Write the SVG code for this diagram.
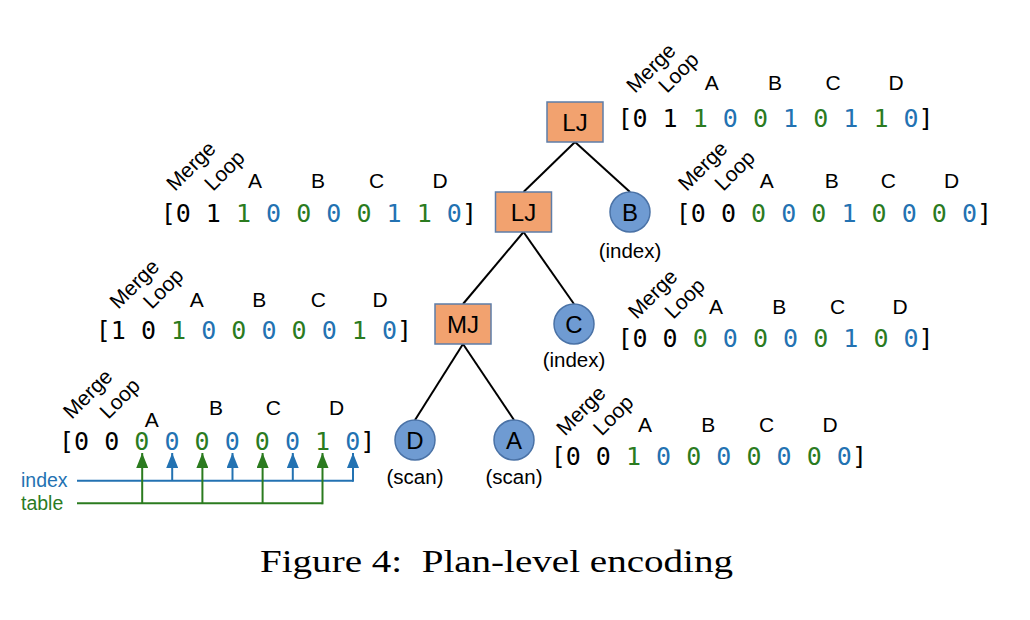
<svg xmlns="http://www.w3.org/2000/svg" width="1030" height="620" viewBox="0 0 1030 620">
<style>
.op{fill:#F2A26F;stroke:#5E7DA8;stroke-width:1.5}
.sc{fill:#6F9BD2;stroke:#4A72A6;stroke-width:1.5}
.nl{font-family:"Liberation Sans",Arial,sans-serif;font-size:24px;fill:#000;text-anchor:middle}
.sub{font-family:"Liberation Sans",Arial,sans-serif;font-size:20.5px;fill:#000;text-anchor:middle}
.lbl{font-family:"Liberation Sans",Arial,sans-serif;font-size:21px;fill:#000;text-anchor:middle}
.rot{font-family:"Liberation Sans",Arial,sans-serif;font-size:21px;fill:#000}
.vec{font-family:"DejaVu Sans Mono",monospace;font-size:25px;fill:#000}
.g{fill:#2B7B1F}
.b{fill:#2372B2}
.edge{stroke:#000;stroke-width:2;fill:none}
.bl{stroke:#2372B2;stroke-width:2;fill:none}
.gl{stroke:#2B7B1F;stroke-width:2;fill:none}
.leg{font-family:"Liberation Sans",Arial,sans-serif;font-size:19.5px}
.cap{font-family:"Liberation Serif","Times New Roman",serif;font-size:31px;fill:#000}
</style>
<defs>
<marker id="ab" viewBox="0 0 15 12" refX="15" refY="6" markerWidth="15" markerHeight="12" markerUnits="userSpaceOnUse" orient="auto">
<path d="M0,0 L15,6 L0,12 Z" fill="#2372B2"/>
</marker>
<marker id="ag" viewBox="0 0 15 12" refX="15" refY="6" markerWidth="15" markerHeight="12" markerUnits="userSpaceOnUse" orient="auto">
<path d="M0,0 L15,6 L0,12 Z" fill="#2B7B1F"/>
</marker>
</defs>
<rect width="1030" height="620" fill="#fff"/>

<g id="connectors">
<line class="edge" x1="575" y1="142" x2="523.5" y2="192"/>
<line class="edge" x1="575" y1="142" x2="630" y2="192"/>
<line class="edge" x1="523.5" y1="232" x2="463" y2="304"/>
<line class="edge" x1="523.5" y1="232" x2="574" y2="304"/>
<line class="edge" x1="463" y1="344" x2="415" y2="420"/>
<line class="edge" x1="463" y1="344" x2="514" y2="420"/>
</g>

<g id="node-lj1">
<rect class="op" x="547" y="102" width="56" height="40"/>
<text class="nl" x="575" y="130.5">LJ</text>
</g>
<g id="node-lj2">
<rect class="op" x="495.5" y="192" width="56" height="40"/>
<text class="nl" x="523.5" y="220.5">LJ</text>
</g>
<g id="node-b">
<circle class="sc" cx="630" cy="212" r="20"/>
<text class="nl" x="630" y="220.5">B</text>
<text class="sub" x="630" y="258">(index)</text>
</g>
<g id="node-mj">
<rect class="op" x="435" y="304" width="56" height="40"/>
<text class="nl" x="463" y="332.5">MJ</text>
</g>
<g id="node-c">
<circle class="sc" cx="574" cy="324" r="20"/>
<text class="nl" x="574" y="332.5">C</text>
<text class="sub" x="574" y="367">(index)</text>
</g>
<g id="node-d">
<circle class="sc" cx="415" cy="440" r="20"/>
<text class="nl" x="415" y="448.5">D</text>
<text class="sub" x="415" y="484">(scan)</text>
</g>
<g id="node-a">
<circle class="sc" cx="514" cy="440" r="20"/>
<text class="nl" x="514" y="448.5">A</text>
<text class="sub" x="514" y="484">(scan)</text>
</g>

<g id="vec-lj1">
<text class="rot" transform="translate(635,94) rotate(-45)">Merge</text>
<text class="rot" transform="translate(667,94) rotate(-45)">Loop</text>
<text class="lbl" x="711.7" y="90">A</text><text class="lbl" x="775" y="90">B</text><text class="lbl" x="833" y="90">C</text><text class="lbl" x="896" y="90">D</text>
<text class="vec" x="617.4" y="127">[0 1 <tspan class="g">1</tspan> <tspan class="b">0</tspan> <tspan class="g">0</tspan> <tspan class="b">1</tspan> <tspan class="g">0</tspan> <tspan class="b">1</tspan> <tspan class="g">1</tspan> <tspan class="b">0</tspan>]</text>
</g>

<g id="vec-lj2">
<text class="rot" transform="translate(175,192) rotate(-45)">Merge</text>
<text class="rot" transform="translate(213,192) rotate(-45)">Loop</text>
<text class="lbl" x="255" y="188">A</text><text class="lbl" x="318" y="188">B</text><text class="lbl" x="376.7" y="188">C</text><text class="lbl" x="440" y="188">D</text>
<text class="vec" x="160.7" y="222">[0 1 <tspan class="g">1</tspan> <tspan class="b">0</tspan> <tspan class="g">0</tspan> <tspan class="b">0</tspan> <tspan class="g">0</tspan> <tspan class="b">1</tspan> <tspan class="g">1</tspan> <tspan class="b">0</tspan>]</text>
</g>

<g id="vec-b">
<text class="rot" transform="translate(686.7,192) rotate(-45)">Merge</text>
<text class="rot" transform="translate(723.3,192) rotate(-45)">Loop</text>
<text class="lbl" x="766.7" y="188.3">A</text><text class="lbl" x="831.7" y="188.3">B</text><text class="lbl" x="888.3" y="188.3">C</text><text class="lbl" x="951.7" y="188.3">D</text>
<text class="vec" x="675.8" y="222">[0 0 <tspan class="g">0</tspan> <tspan class="b">0</tspan> <tspan class="g">0</tspan> <tspan class="b">1</tspan> <tspan class="g">0</tspan> <tspan class="b">0</tspan> <tspan class="g">0</tspan> <tspan class="b">0</tspan>]</text>
</g>

<g id="vec-mj">
<text class="rot" transform="translate(118.3,310) rotate(-45)">Merge</text>
<text class="rot" transform="translate(151.7,310) rotate(-45)">Loop</text>
<text class="lbl" x="196.7" y="306.7">A</text><text class="lbl" x="259.3" y="306.7">B</text><text class="lbl" x="318.3" y="306.7">C</text><text class="lbl" x="380" y="306.7">D</text>
<text class="vec" x="95.8" y="338.5">[1 0 <tspan class="g">1</tspan> <tspan class="b">0</tspan> <tspan class="g">0</tspan> <tspan class="b">0</tspan> <tspan class="g">0</tspan> <tspan class="b">0</tspan> <tspan class="g">1</tspan> <tspan class="b">0</tspan>]</text>
</g>

<g id="vec-c">
<text class="rot" transform="translate(636.7,320) rotate(-45)">Merge</text>
<text class="rot" transform="translate(673.3,320) rotate(-45)">Loop</text>
<text class="lbl" x="716" y="314.3">A</text><text class="lbl" x="779.3" y="314.3">B</text><text class="lbl" x="837.7" y="314.3">C</text><text class="lbl" x="900" y="314.3">D</text>
<text class="vec" x="617.4" y="347">[0 0 <tspan class="g">0</tspan> <tspan class="b">0</tspan> <tspan class="g">0</tspan> <tspan class="b">0</tspan> <tspan class="g">0</tspan> <tspan class="b">1</tspan> <tspan class="g">0</tspan> <tspan class="b">0</tspan>]</text>
</g>

<g id="vec-d">
<text class="rot" transform="translate(71.7,420) rotate(-45)">Merge</text>
<text class="rot" transform="translate(108.3,420) rotate(-45)">Loop</text>
<text class="lbl" x="151.7" y="426.7">A</text><text class="lbl" x="216" y="415">B</text><text class="lbl" x="273.3" y="415">C</text><text class="lbl" x="336.7" y="415">D</text>
<text class="vec" x="59" y="450">[0 0 <tspan class="g">0</tspan> <tspan class="b">0</tspan> <tspan class="g">0</tspan> <tspan class="b">0</tspan> <tspan class="g">0</tspan> <tspan class="b">0</tspan> <tspan class="g">1</tspan> <tspan class="b">0</tspan>]</text>
</g>

<g id="vec-a">
<text class="rot" transform="translate(565,436.7) rotate(-45)">Merge</text>
<text class="rot" transform="translate(601.7,436.7) rotate(-45)">Loop</text>
<text class="lbl" x="645" y="431.7">A</text><text class="lbl" x="708.3" y="431.7">B</text><text class="lbl" x="766.7" y="431.7">C</text><text class="lbl" x="830" y="431.7">D</text>
<text class="vec" x="550.7" y="465">[0 0 <tspan class="g">1</tspan> <tspan class="b">0</tspan> <tspan class="g">0</tspan> <tspan class="b">0</tspan> <tspan class="g">0</tspan> <tspan class="b">0</tspan> <tspan class="g">0</tspan> <tspan class="b">0</tspan>]</text>
</g>

<g id="legend">
<text class="leg" x="21" y="487" fill="#2372B2">index</text>
<text class="leg" x="21" y="509.5" fill="#2B7B1F">table</text>
<polyline class="bl" points="77,480.7 353,480.7"/>
<polyline class="gl" points="77,503.3 322.5,503.3"/>
<line class="bl" x1="172.2" y1="480.7" x2="172.2" y2="453" marker-end="url(#ab)"/>
<line class="bl" x1="232.5" y1="480.7" x2="232.5" y2="453" marker-end="url(#ab)"/>
<line class="bl" x1="292.8" y1="480.7" x2="292.8" y2="453" marker-end="url(#ab)"/>
<line class="bl" x1="353" y1="481.7" x2="353" y2="453" marker-end="url(#ab)"/>
<line class="gl" x1="142.2" y1="503.3" x2="142.2" y2="453" marker-end="url(#ag)"/>
<line class="gl" x1="202.4" y1="503.3" x2="202.4" y2="453" marker-end="url(#ag)"/>
<line class="gl" x1="262.6" y1="503.3" x2="262.6" y2="453" marker-end="url(#ag)"/>
<line class="gl" x1="322.5" y1="504.3" x2="322.5" y2="453" marker-end="url(#ag)"/>
</g>

<text class="cap" x="260" y="571.5" textLength="473" lengthAdjust="spacingAndGlyphs">Figure 4:&#160; Plan-level encoding</text>
</svg>
